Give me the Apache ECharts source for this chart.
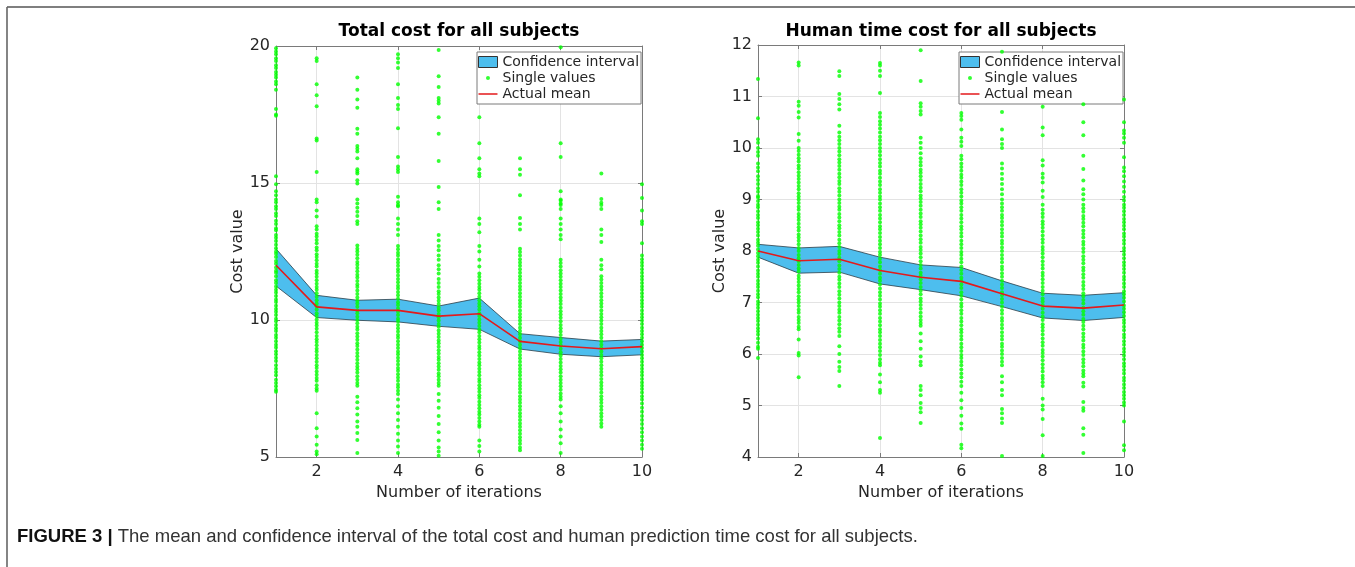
<!DOCTYPE html>
<html>
<head>
<meta charset="utf-8">
<script src="https://cdn.jsdelivr.net/npm/echarts@6/dist/echarts.min.js"></script>
<style>
html,body{margin:0;padding:0;background:#fff;}
#chart{width:1355px;height:567px;}
</style>
</head>
<body>
<div id="chart"></div>
<script>
const iterations = ['1','2','3','4','5','6','7','8','9','10'];

const totalMean  = [12.0, 10.48, 10.35, 10.35, 10.14, 10.23, 9.22, 9.05, 8.95, 9.03];
const totalUpper = [12.6, 10.9, 10.72, 10.76, 10.51, 10.8, 9.5, 9.36, 9.23, 9.29];
const totalLower = [11.24, 10.09, 9.99, 9.93, 9.77, 9.66, 8.94, 8.75, 8.66, 8.73];

const humanMean  = [8.0, 7.81, 7.84, 7.62, 7.49, 7.41, 7.17, 6.93, 6.89, 6.95];
const humanUpper = [8.13, 8.06, 8.09, 7.88, 7.73, 7.68, 7.42, 7.18, 7.14, 7.19];
const humanLower = [7.88, 7.57, 7.59, 7.36, 7.25, 7.13, 6.92, 6.70, 6.65, 6.71];

// single values (total cost), one list per iteration
const totalSingles = [
  [19.92,19.8,19.7,19.55,19.45,19.3,19.2,19.05,18.95,18.85,18.7,18.6,18.4,17.7,17.5,17.45,15.25,14.95,14.7,14.55,14.4,14.3,14.15,14.05,13.9,13.8,13.62,13.5,13.35,13.28,13.1,13.0,12.88,12.75,12.62,12.5,12.42,12.3,12.15,12.05,11.92,11.8,11.72,11.6,11.45,11.35,11.22,11.1,11.0,10.88,10.75,10.66,10.52,10.4,10.3,10.18,10.05,9.95,9.82,9.7,9.6,9.45,9.35,9.22,9.1,9.0,8.86,8.75,8.62,8.5,8.35,8.22,8.1,7.98,7.82,7.7,7.58,7.45,7.38],
  [19.55,19.45,18.6,18.2,17.8,16.62,16.55,15.4,14.4,14.3,14.0,13.78,13.42,13.3,13.15,13.05,12.92,12.8,12.65,12.55,12.4,12.3,12.18,12.05,11.95,11.8,11.7,11.58,11.45,11.32,11.2,11.1,10.98,10.85,10.72,10.6,10.5,10.38,10.25,10.15,10.02,9.9,9.8,9.68,9.55,9.42,9.3,9.2,9.08,8.95,8.85,8.72,8.6,8.48,8.35,8.25,8.12,8.0,7.88,7.78,7.62,7.5,7.42,6.6,6.05,5.75,5.45,5.2,5.1],
  [18.85,18.4,18.05,17.75,16.98,16.8,16.35,16.25,16.15,15.9,15.5,15.42,15.35,15.1,14.98,14.4,14.25,14.1,13.95,13.8,13.6,13.5,12.72,12.6,12.5,12.38,12.25,12.12,12.02,11.9,11.78,11.65,11.55,11.42,11.3,11.2,11.08,10.95,10.82,10.7,10.6,10.48,10.35,10.25,10.12,10.0,9.88,9.75,9.65,9.52,9.4,9.28,9.15,9.05,8.92,8.8,8.68,8.55,8.42,8.3,8.2,8.08,7.95,7.82,7.7,7.6,7.2,7.0,6.78,6.55,6.3,6.1,5.88,5.62,5.15],
  [19.7,19.55,19.4,19.2,18.6,18.1,17.85,17.7,17.0,15.95,15.6,15.5,15.4,14.5,14.3,14.2,14.15,13.7,13.5,13.3,13.1,12.7,12.58,12.45,12.35,12.22,12.1,11.98,11.85,11.75,11.62,11.5,11.38,11.25,11.15,11.02,10.9,10.78,10.65,10.55,10.42,10.3,10.18,10.05,9.95,9.82,9.7,9.58,9.45,9.35,9.22,9.1,8.98,8.85,8.75,8.62,8.5,8.38,8.25,8.15,8.02,7.9,7.78,7.65,7.55,7.42,7.3,7.1,6.85,6.6,6.35,6.1,5.85,5.6,5.38,5.15],
  [19.85,18.9,18.5,18.1,18.0,17.9,17.4,16.8,15.8,14.85,14.3,14.05,13.1,12.9,12.7,12.55,12.35,12.2,12.0,11.85,11.7,11.5,11.35,11.2,11.05,10.95,10.82,10.7,10.58,10.45,10.35,10.22,10.1,9.98,9.85,9.75,9.62,9.5,9.38,9.25,9.15,9.02,8.9,8.78,8.65,8.55,8.42,8.3,8.18,8.05,7.95,7.82,7.7,7.6,7.3,7.05,6.8,6.5,6.2,5.9,5.6,5.35,5.2,5.05],
  [17.4,16.45,15.9,15.5,15.35,15.25,13.7,13.5,13.2,12.7,12.5,12.2,11.95,11.7,11.58,11.45,11.32,11.2,11.1,10.98,10.85,10.72,10.6,10.5,10.38,10.25,10.15,10.02,9.9,9.78,9.65,9.55,9.42,9.3,9.18,9.05,8.95,8.82,8.7,8.58,8.45,8.35,8.22,8.1,7.98,7.85,7.75,7.62,7.5,7.38,7.25,7.15,7.02,6.9,6.78,6.65,6.55,6.42,6.3,6.18,6.1,5.6,5.4,5.2],
  [15.9,15.5,15.3,14.55,13.72,13.5,13.3,12.6,12.48,12.35,12.22,12.1,11.98,11.85,11.72,11.6,11.48,11.35,11.22,11.1,10.98,10.85,10.72,10.6,10.48,10.35,10.22,10.1,9.98,9.85,9.72,9.6,9.48,9.35,9.22,9.1,8.98,8.85,8.72,8.6,8.48,8.35,8.22,8.1,7.98,7.85,7.72,7.6,7.48,7.35,7.22,7.1,6.98,6.85,6.72,6.6,6.48,6.35,6.22,6.1,5.98,5.85,5.72,5.6,5.48,5.35,5.25],
  [19.95,16.45,15.95,14.7,14.4,14.35,14.25,14.2,14.05,13.7,13.5,13.3,13.1,12.95,12.2,12.08,11.95,11.82,11.7,11.58,11.45,11.32,11.2,11.08,10.95,10.82,10.7,10.58,10.45,10.32,10.2,10.08,9.95,9.82,9.7,9.58,9.45,9.32,9.2,9.08,8.95,8.82,8.7,8.58,8.45,8.32,8.2,8.08,7.95,7.82,7.7,7.58,7.45,7.32,7.2,7.1,6.85,6.6,6.3,6.0,5.75,5.5,5.15],
  [15.35,14.42,14.28,14.2,14.05,13.3,13.1,12.85,12.2,12.0,11.85,11.6,11.48,11.35,11.22,11.1,10.98,10.85,10.72,10.6,10.48,10.35,10.22,10.1,9.98,9.85,9.72,9.6,9.48,9.35,9.22,9.1,8.98,8.85,8.72,8.6,8.48,8.35,8.22,8.1,7.98,7.85,7.72,7.6,7.48,7.35,7.22,7.1,6.98,6.85,6.72,6.6,6.48,6.35,6.22,6.1],
  [14.95,14.45,14.0,13.6,13.5,12.8,12.35,12.22,12.1,11.98,11.85,11.72,11.6,11.48,11.35,11.22,11.1,10.98,10.85,10.72,10.6,10.48,10.35,10.22,10.1,9.98,9.85,9.72,9.6,9.48,9.35,9.22,9.1,8.98,8.85,8.72,8.6,8.48,8.35,8.22,8.1,7.98,7.85,7.72,7.6,7.48,7.35,7.22,7.1,6.95,6.8,6.65,6.5,6.35,6.2,6.05,5.9,5.75,5.6,5.45,5.3]
];

// single values (human time cost), one list per iteration
const humanSingles = [
  [11.34,10.58,10.17,10.1,10.0,9.92,9.85,9.7,9.62,9.55,9.45,9.38,9.3,9.22,9.15,9.07,9.04,8.97,8.9,8.85,8.77,8.7,8.64,8.56,8.5,8.43,8.37,8.3,8.22,8.16,8.1,8.03,7.96,7.9,7.83,7.77,7.7,7.62,7.56,7.5,7.42,7.36,7.3,7.23,7.16,7.1,7.02,6.96,6.9,6.83,6.76,6.7,6.64,6.57,6.5,6.44,6.38,6.3,6.22,6.14,6.1,5.92],
  [11.66,11.6,10.9,10.82,10.7,10.59,10.27,10.14,10.0,9.94,9.87,9.8,9.74,9.66,9.6,9.53,9.46,9.4,9.33,9.26,9.2,9.12,9.06,9.0,8.93,8.86,8.8,8.72,8.66,8.6,8.53,8.46,8.4,8.32,8.26,8.2,8.13,8.06,8.0,7.92,7.86,7.8,7.73,7.66,7.6,7.52,7.46,7.4,7.33,7.26,7.2,7.12,7.06,7.0,6.93,6.86,6.8,6.72,6.66,6.6,6.53,6.48,6.28,6.02,5.97,5.55],
  [11.49,11.4,11.05,10.95,10.85,10.75,10.43,10.3,10.22,10.15,10.08,10.0,9.93,9.86,9.78,9.72,9.65,9.58,9.5,9.43,9.36,9.3,9.22,9.15,9.08,9.0,8.93,8.86,8.8,8.72,8.65,8.58,8.5,8.44,8.37,8.3,8.22,8.15,8.08,8.0,7.94,7.87,7.8,7.72,7.65,7.58,7.5,7.44,7.37,7.3,7.22,7.15,7.08,7.0,6.93,6.86,6.8,6.72,6.65,6.58,6.5,6.43,6.35,6.15,6.0,5.85,5.75,5.67,5.38],
  [11.65,11.6,11.5,11.4,11.07,10.68,10.6,10.52,10.45,10.38,10.3,10.22,10.15,10.08,10.0,9.93,9.86,9.78,9.71,9.64,9.56,9.5,9.42,9.35,9.28,9.2,9.13,9.06,9.0,8.92,8.85,8.78,8.7,8.63,8.56,8.48,8.42,8.35,8.27,8.2,8.13,8.06,7.98,7.92,7.85,7.78,7.7,7.63,7.56,7.48,7.42,7.35,7.27,7.2,7.13,7.06,6.98,6.92,6.85,6.78,6.7,6.63,6.56,6.48,6.42,6.35,6.27,6.2,6.13,6.06,5.98,5.9,5.83,5.78,5.6,5.45,5.3,5.25,4.37],
  [11.9,11.3,10.87,10.8,10.72,10.65,10.2,10.1,10.0,9.9,9.8,9.73,9.66,9.58,9.52,9.45,9.38,9.3,9.23,9.16,9.08,9.02,8.95,8.88,8.8,8.73,8.66,8.58,8.52,8.45,8.38,8.3,8.23,8.16,8.08,8.02,7.95,7.88,7.8,7.73,7.66,7.58,7.52,7.45,7.38,7.3,7.23,7.16,7.08,7.02,6.95,6.88,6.8,6.73,6.66,6.6,6.55,6.4,6.25,6.1,5.95,5.85,5.78,5.38,5.3,5.2,5.05,4.95,4.87,4.66],
  [10.68,10.62,10.55,10.36,10.2,10.12,10.04,9.85,9.78,9.7,9.63,9.56,9.48,9.42,9.35,9.28,9.2,9.13,9.06,8.98,8.92,8.85,8.78,8.7,8.63,8.56,8.48,8.42,8.35,8.28,8.2,8.13,8.06,7.98,7.92,7.85,7.78,7.7,7.63,7.56,7.48,7.42,7.35,7.28,7.2,7.13,7.06,6.98,6.92,6.85,6.78,6.7,6.63,6.56,6.48,6.42,6.35,6.28,6.2,6.13,6.06,5.98,5.92,5.85,5.78,5.7,5.62,5.55,5.46,5.38,5.25,5.1,4.95,4.8,4.65,4.55,4.24,4.17],
  [11.87,10.7,10.36,10.17,10.08,10.0,9.7,9.6,9.5,9.4,9.3,9.2,9.1,9.0,8.92,8.85,8.78,8.7,8.64,8.57,8.5,8.42,8.35,8.28,8.2,8.14,8.07,8.0,7.92,7.85,7.78,7.7,7.64,7.57,7.5,7.42,7.35,7.28,7.2,7.14,7.07,7.0,6.92,6.85,6.78,6.7,6.64,6.57,6.5,6.42,6.35,6.28,6.2,6.14,6.07,6.0,5.92,5.85,5.78,5.57,5.45,5.3,5.2,4.93,4.85,4.75,4.66,4.02],
  [10.8,10.4,10.25,9.76,9.66,9.5,9.42,9.33,9.17,9.05,8.9,8.8,8.73,8.66,8.58,8.52,8.45,8.38,8.3,8.23,8.16,8.08,8.02,7.95,7.88,7.8,7.73,7.66,7.58,7.52,7.45,7.38,7.3,7.23,7.16,7.08,7.02,6.95,6.88,6.8,6.73,6.66,6.58,6.52,6.45,6.38,6.3,6.23,6.16,6.08,6.02,5.95,5.88,5.8,5.73,5.66,5.58,5.52,5.45,5.38,5.13,5.0,4.92,4.74,4.42,4.02],
  [10.85,10.5,10.25,9.85,9.59,9.37,9.2,9.1,9.0,8.9,8.83,8.76,8.68,8.62,8.55,8.48,8.4,8.33,8.26,8.18,8.12,8.05,7.98,7.9,7.83,7.76,7.68,7.62,7.55,7.48,7.4,7.33,7.26,7.18,7.12,7.05,6.98,6.9,6.83,6.76,6.68,6.62,6.55,6.48,6.4,6.33,6.26,6.18,6.12,6.05,5.98,5.9,5.83,5.76,5.68,5.62,5.57,5.44,5.37,5.07,4.95,4.9,4.56,4.43,4.08],
  [10.94,10.5,10.34,10.28,10.2,10.1,9.82,9.62,9.55,9.45,9.35,9.25,9.15,9.05,8.98,8.9,8.84,8.77,8.7,8.62,8.56,8.49,8.42,8.34,8.28,8.21,8.14,8.06,8.0,7.93,7.86,7.78,7.72,7.65,7.58,7.5,7.44,7.37,7.3,7.22,7.16,7.09,7.02,6.94,6.88,6.81,6.74,6.66,6.6,6.53,6.46,6.38,6.32,6.25,6.18,6.1,6.04,5.97,5.9,5.82,5.76,5.69,5.62,5.54,5.48,5.41,5.34,5.26,5.2,5.13,5.06,5.0,4.69,4.23,4.13]
];

const chart = echarts.init(document.getElementById('chart'), null, {renderer: 'canvas'});

const FONT = 'DejaVu Sans';
const TXT = '#262626';
const AXIS = '#7a7a7a';
const GRIDC = '#e3e3e3';
const BAND = '#4DBEEE';
const EDGE = '#2c3d47';
const MEANC = '#e31a1c';
const DOT = '#00ff00';

const evenIdx = (i) => i % 2 === 1;

function xAxes(grid) {
  return [
    {
      type: 'category', gridIndex: grid, data: iterations, boundaryGap: false, position: 'bottom',
      axisLine: {show: true, lineStyle: {color: AXIS, width: 1}},
      axisTick: {show: true, inside: true, length: 4, interval: evenIdx, lineStyle: {color: AXIS}},
      axisLabel: {interval: evenIdx, color: TXT, fontSize: 16, fontFamily: FONT, margin: 7},
      splitLine: {show: true, interval: evenIdx, lineStyle: {color: GRIDC, width: 1}},
      name: 'Number of iterations', nameLocation: 'middle', nameGap: 28,
      nameTextStyle: {color: TXT, fontSize: 16, fontFamily: FONT}
    },
    {
      type: 'category', gridIndex: grid, data: iterations, boundaryGap: false, position: 'top',
      axisLine: {show: true, lineStyle: {color: AXIS, width: 1}},
      axisTick: {show: true, inside: true, length: 4, interval: evenIdx, lineStyle: {color: AXIS}},
      axisLabel: {show: false}, splitLine: {show: false}
    }
  ];
}

function yAxes(grid, min, max, interval, gap) {
  return [
    {
      type: 'value', gridIndex: grid, min: min, max: max, interval: interval, position: 'left',
      axisLine: {show: true, lineStyle: {color: AXIS, width: 1}},
      axisTick: {show: true, inside: true, length: 4, lineStyle: {color: AXIS}},
      axisLabel: {color: TXT, fontSize: 16, fontFamily: FONT, margin: 6},
      splitLine: {show: true, lineStyle: {color: GRIDC, width: 1}},
      name: 'Cost value', nameLocation: 'middle', nameGap: gap, nameRotate: 90,
      nameTextStyle: {color: TXT, fontSize: 16, fontFamily: FONT}
    },
    {
      type: 'value', gridIndex: grid, min: min, max: max, interval: interval, position: 'right',
      axisLine: {show: true, lineStyle: {color: AXIS, width: 1}},
      axisTick: {show: true, inside: true, length: 4, lineStyle: {color: AXIS}},
      axisLabel: {show: false}, splitLine: {show: false}
    }
  ];
}

function panelSeries(xIdx, yIdx, lower, upper, mean, singles, stackId) {
  const bandWidth = upper.map((u, i) => +(u - lower[i]).toFixed(4));
  const pts = [];
  singles.forEach((vals, i) => vals.forEach(v => pts.push([i, v])));
  return [
    {
      name: 'ci-lower', type: 'line', xAxisIndex: xIdx, yAxisIndex: yIdx, stack: stackId,
      data: lower, symbol: 'none', silent: true, z: 3,
      lineStyle: {color: EDGE, width: 0.8}
    },
    {
      name: 'Confidence interval', type: 'line', xAxisIndex: xIdx, yAxisIndex: yIdx, stack: stackId,
      data: bandWidth, symbol: 'none', silent: true, z: 2,
      lineStyle: {color: EDGE, width: 0.8}, itemStyle: {color: BAND},
      areaStyle: {color: BAND, opacity: 1}
    },
    {
      name: 'Single values', type: 'scatter', xAxisIndex: xIdx, yAxisIndex: yIdx,
      data: pts, symbolSize: 4, itemStyle: {color: DOT}, z: 4, silent: true
    },
    {
      name: 'Actual mean', type: 'line', xAxisIndex: xIdx, yAxisIndex: yIdx,
      data: mean, symbol: 'none', z: 5, silent: true,
      lineStyle: {color: MEANC, width: 1.6}, itemStyle: {color: MEANC}
    }
  ];
}

function legendFor(left) {
  return {
    orient: 'vertical', left: left, top: 52, itemWidth: 19, itemHeight: 11, itemGap: 2,
    padding: [3, 2, 3, 1], borderColor: '#7a7a7a', borderWidth: 1, backgroundColor: '#ffffff',
    textStyle: {color: TXT, fontSize: 14, fontFamily: FONT},
    selectedMode: false,
    data: [
      {name: 'Confidence interval', icon: 'rect', itemStyle: {color: BAND, borderColor: '#333333', borderWidth: 1}},
      {name: 'Single values', icon: 'path://M0,0L0.01,0M19,11L19.01,11M7.5,5.5A2,2,0,1,0,11.5,5.5A2,2,0,1,0,7.5,5.5Z', itemStyle: {color: DOT, borderWidth: 0}},
      {name: 'Actual mean', icon: 'path://M0,0L0.01,0M19,11L19.01,11M0,4.7L19,4.7L19,6.3L0,6.3Z', itemStyle: {color: MEANC, borderWidth: 0}}
    ]
  };
}

const option = {
  backgroundColor: '#ffffff',
  animation: false,
  title: [
    {text: 'Total cost for all subjects', left: 459, top: 23, textAlign: 'center', padding: 0,
     textStyle: {fontFamily: FONT, fontSize: 17, fontWeight: 'bold', color: '#000'}},
    {text: 'Human time cost for all subjects', left: 941, top: 23, textAlign: 'center', padding: 0,
     textStyle: {fontFamily: FONT, fontSize: 17, fontWeight: 'bold', color: '#000'}}
  ],
  legend: [legendFor(477), legendFor(959)],
  grid: [
    {left: 276, top: 46, width: 366, height: 411, containLabel: false},
    {left: 758, top: 45, width: 366, height: 412, containLabel: false}
  ],
  xAxis: [].concat(xAxes(0), xAxes(1)),
  yAxis: [].concat(yAxes(0, 5, 20, 5, 26), yAxes(1, 4, 12, 1, 27)),
  series: [].concat(
    panelSeries(0, 0, totalLower, totalUpper, totalMean, totalSingles, 'ciTotal'),
    panelSeries(2, 2, humanLower, humanUpper, humanMean, humanSingles, 'ciHuman')
  ),
  graphic: [
    {type: 'line', shape: {x1: 7, y1: 7, x2: 1355, y2: 7}, style: {stroke: '#555', lineWidth: 1.6}, silent: true},
    {type: 'line', shape: {x1: 7, y1: 7, x2: 7, y2: 567}, style: {stroke: '#666', lineWidth: 1.6}, silent: true},
    {type: 'text', left: 17, top: 527, silent: true,
     style: {
       text: '{b|FIGURE 3 |} The mean and confidence interval of the total cost and human prediction time cost for all subjects.',
       fontFamily: 'Liberation Sans', fontSize: 18.5, fill: '#333333',
       rich: {b: {fontWeight: 'bold', fontFamily: 'Liberation Sans', fontSize: 18.5, fill: '#111111'}}
     }}
  ]
};

chart.setOption(option);
</script>
</body>
</html>
